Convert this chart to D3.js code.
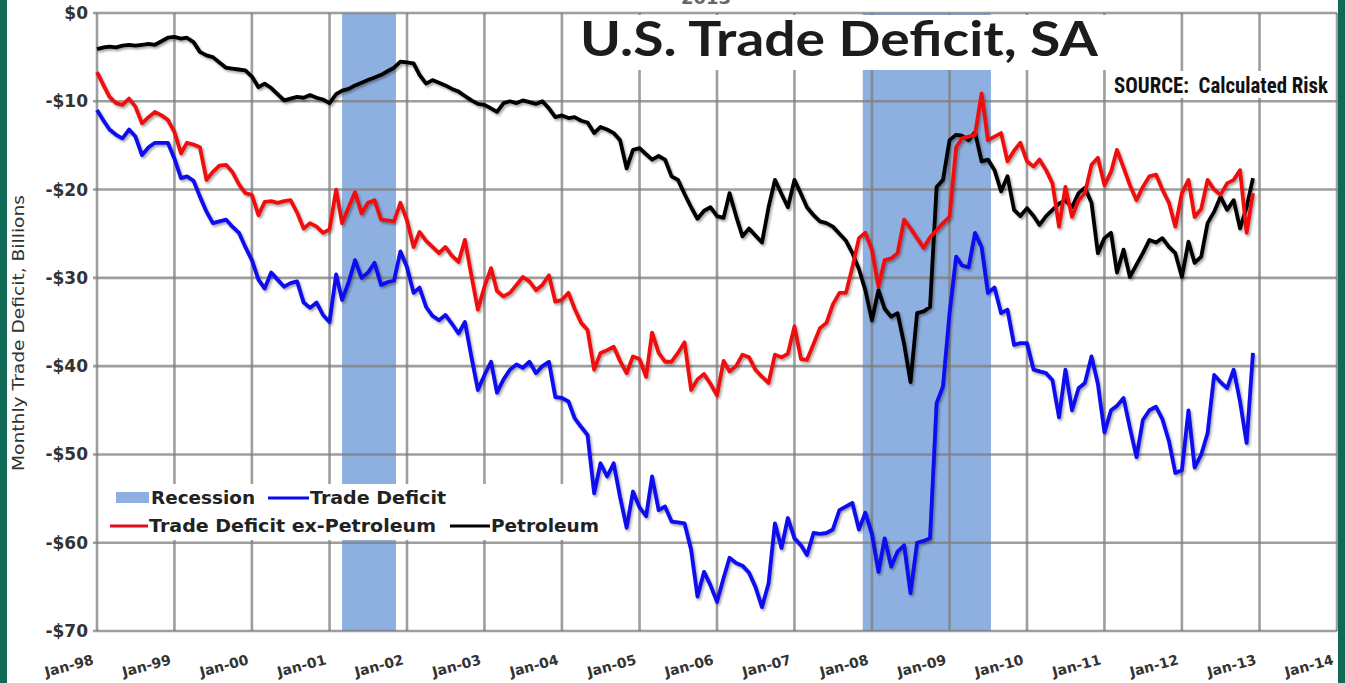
<!DOCTYPE html>
<html>
<head>
<meta charset="utf-8">
<script src="https://cdn.jsdelivr.net/npm/d3@7"></script>
<style>
  body { margin: 0; background: #fff; overflow: hidden; }
  svg { display: block; }
</style>
</head>
<body>
<div id="chart"></div>
<script>
// Monthly values, Jan-98 .. Dec-12, $ billions
var tradeDeficit = [
  -11.0, -12.2, -13.2, -13.8, -14.2, -13.2, -14.0, -16.1, -15.2, -14.7, -14.7, -14.7,
  -16.5, -18.7, -18.5, -19.0, -20.8, -22.5, -23.8, -23.6, -23.4, -24.2, -24.9, -26.5,
  -28.0, -30.2, -31.2, -29.4, -30.2, -31.0, -30.6, -30.4, -32.8, -33.4, -32.8, -34.2,
  -35.0, -29.6, -32.5, -30.5, -28.0, -30.0, -29.4, -28.3, -30.8, -30.5, -30.3, -27.0,
  -28.8, -31.7, -31.1, -33.3, -34.3, -34.8, -34.2, -35.2, -36.3, -35.0, -39.0, -42.7,
  -41.0, -39.5, -43.0, -41.5, -40.4, -39.8, -40.2, -39.5, -40.8, -40.0, -39.5, -43.5,
  -43.6, -44.0, -45.9, -46.9, -47.8, -54.4, -51.0, -52.5, -51.0, -54.8, -58.3, -54.2,
  -56.0, -57.0, -52.5, -56.3, -55.9, -57.6, -57.7, -57.8, -60.8, -66.1, -63.3, -64.8,
  -66.7, -64.0, -61.7, -62.3, -62.6, -63.4, -65.0, -67.3, -64.6, -57.8, -60.6, -57.2,
  -59.5, -60.3, -61.4, -58.9, -59.0, -58.9, -58.5, -56.3, -55.9, -55.5, -58.5, -56.6,
  -59.0, -63.3, -59.5, -62.7, -61.0, -60.3, -65.7, -60.0, -59.8, -59.5, -44.2, -42.3,
  -34.0, -27.6, -28.6, -28.8, -24.9, -26.5, -31.7, -31.1, -34.0, -33.6, -37.6, -37.4,
  -37.4, -40.4, -40.6, -40.8, -41.6, -45.8, -40.4, -45.0, -42.5, -41.9, -38.9, -42.0,
  -47.5, -45.0, -44.5, -43.6, -47.0, -50.3, -46.1, -45.0, -44.6, -46.0, -48.5, -52.1,
  -51.8, -45.0, -51.5, -50.0, -47.6, -41.0, -41.8, -42.5, -40.4, -44.0, -48.7, -38.5
];

var exPetroleum = [
  -6.7, -8.2, -9.5, -10.2, -10.4, -9.7, -10.6, -12.5, -11.8, -11.2, -11.6, -12.1,
  -13.5, -15.9, -14.7, -14.9, -15.2, -18.9, -18.0, -17.3, -17.2, -18.0, -19.4, -20.4,
  -20.6, -22.9, -21.4, -21.3, -21.5, -21.3, -21.2, -22.6, -24.4, -23.8, -24.2, -24.9,
  -24.5, -20.0, -23.8, -22.0, -20.3, -22.7, -21.5, -21.2, -23.4, -23.5, -23.6, -21.5,
  -23.5, -26.5, -24.8, -25.8, -26.5, -27.2, -26.5, -27.5, -28.2, -25.7, -29.8, -33.6,
  -31.0, -28.9, -31.5, -32.1, -31.7, -30.8, -29.9, -30.4, -31.4, -30.8, -29.7, -32.7,
  -32.5, -31.7, -33.5, -35.1, -35.9, -40.4, -38.5, -38.2, -37.8, -39.4, -40.8, -38.9,
  -39.2, -41.2, -36.2, -38.5, -39.5, -39.5, -38.5, -37.3, -42.7, -41.5, -40.9, -42.0,
  -43.3, -39.4, -40.6, -40.0, -38.7, -39.0, -40.4, -41.2, -41.9, -38.7, -39.0, -38.6,
  -35.5, -39.2, -39.3, -37.5, -35.7, -35.1, -33.0, -31.7, -31.7, -28.8, -25.5, -24.9,
  -26.8, -31.0, -28.0, -27.8, -27.2, -23.4, -24.4, -25.5, -26.6, -25.4, -24.6, -23.8,
  -23.1, -15.2, -14.2, -14.0, -13.8, -9.1, -14.4, -14.0, -13.6, -16.8, -15.6, -14.7,
  -16.8, -17.4, -16.6, -17.8, -19.3, -24.2, -19.7, -23.1, -21.2, -20.4, -17.2, -16.4,
  -19.5, -18.0, -15.5, -17.5, -19.5, -21.2, -19.7, -18.5, -18.3, -20.0, -21.5, -24.2,
  -20.4, -18.9, -23.1, -22.2, -18.9, -20.0, -20.6, -19.3, -18.9, -17.8, -24.9, -20.4
];

var petroleum = [
  -4.1, -3.9, -3.8, -3.9, -3.7, -3.6, -3.7, -3.6, -3.5, -3.6, -3.2, -2.8,
  -2.7, -2.9, -2.8, -3.3, -4.4, -4.8, -5.0, -5.6, -6.2, -6.3, -6.4, -6.5,
  -7.2, -8.4, -8.0, -8.5, -9.2, -9.9, -9.7, -9.5, -9.6, -9.3, -9.6, -9.8,
  -10.2, -9.2, -8.8, -8.6, -8.2, -7.9, -7.6, -7.3, -7.0, -6.6, -6.2, -5.5,
  -5.6, -5.7, -7.0, -8.0, -7.6, -7.9, -8.2, -8.6, -8.9, -9.4, -9.9, -10.3,
  -10.4, -10.8, -11.2, -10.2, -10.0, -10.2, -9.9, -10.1, -10.3, -10.0, -10.8, -11.8,
  -11.6, -11.9, -11.8, -12.2, -12.4, -13.6, -12.9, -13.2, -13.6, -14.4, -17.6, -15.5,
  -15.3, -16.0, -16.6, -16.2, -16.6, -18.5, -18.9, -20.5, -22.0, -23.3, -22.4, -22.0,
  -23.0, -23.2, -20.4, -23.0, -25.3, -24.4, -25.2, -26.0, -22.0, -18.9, -20.5, -22.0,
  -18.9, -20.5, -22.0, -22.9, -23.6, -23.8, -24.2, -25.0, -25.8, -27.2, -29.0, -31.4,
  -34.8, -31.4, -33.5, -34.4, -34.0, -37.5, -41.8, -34.0, -33.8, -33.3, -19.7, -18.9,
  -14.4, -13.8, -13.9, -14.4, -13.5, -16.8, -16.6, -17.8, -20.2, -18.5, -22.3, -23.0,
  -22.1, -23.0, -24.0, -23.0, -22.3, -21.6, -21.2, -22.0, -20.4, -19.8, -21.5, -27.2,
  -25.5, -24.9, -29.4, -26.8, -29.9, -28.5, -27.2, -25.7, -26.0, -25.5, -26.5, -27.2,
  -29.9, -25.9, -28.3, -27.6, -23.8, -22.5, -20.8, -22.3, -21.2, -24.4, -22.0, -18.7
];

var recessions = [["2001-03-01", "2001-11-10"], ["2007-11-19", "2009-07-15"]];
var yTicks = [0, -10, -20, -30, -40, -50, -60, -70];
var xDomain = ["1998-01-01", "2014-01-01"];

var width = 1345, height = 683;
var plotLeft = 97, plotRight = 1337, plotTop = 13, plotBottom = 631;
var parse = d3.utcParse("%Y-%m-%d");
var start = parse("1998-01-01");

var svg = d3.select("#chart").append("svg")
    .attr("width", width)
    .attr("height", height);

var defs = svg.append("defs");
defs.append("filter").attr("id", "shadow")
    .attr("x", "-5%").attr("y", "-5%").attr("width", "110%").attr("height", "110%")
  .append("feDropShadow")
    .attr("dx", 1.5).attr("dy", 2).attr("stdDeviation", 1.3)
    .attr("flood-color", "#000").attr("flood-opacity", 0.35);

var x = d3.scaleUtc()
    .domain(xDomain.map(parse))
    .range([plotLeft, plotRight]);

var y = d3.scaleLinear()
    .domain([-70, 0])
    .range([plotBottom, plotTop]);

svg.append("rect").attr("width", width).attr("height", height).attr("fill", "#fff");

// Recession bands
svg.append("g").selectAll("rect")
    .data(recessions)
  .enter().append("rect")
    .attr("x", d => x(parse(d[0])))
    .attr("width", d => x(parse(d[1])) - x(parse(d[0])))
    .attr("y", y(0))
    .attr("height", y(-70) - y(0))
    .attr("fill", "#8eb0e0");

// Grid
var years = d3.utcYear.range(parse(xDomain[0]), d3.utcDay.offset(parse(xDomain[1]), 1));
svg.append("g").selectAll("line")
    .data(years)
  .enter().append("line")
    .attr("x1", d => x(d)).attr("x2", d => x(d))
    .attr("y1", y(0)).attr("y2", y(-70))
    .attr("stroke", "#7d7d7d").attr("stroke-opacity", 0.75).attr("stroke-width", 2.6);

svg.append("g").selectAll("line")
    .data(yTicks)
  .enter().append("line")
    .attr("x1", plotLeft - 4).attr("x2", plotRight)
    .attr("y1", d => y(d)).attr("y2", d => y(d))
    .attr("stroke", "#7d7d7d").attr("stroke-opacity", 0.75).attr("stroke-width", 2.6);

// Title box
svg.append("rect").attr("x", 566).attr("y", 15).attr("width", 548).attr("height", 55).attr("fill", "#fff");
svg.append("text")
    .attr("x", 580).attr("y", 56)
    .attr("textLength", 518).attr("lengthAdjust", "spacingAndGlyphs")
    .style("font-family", "Lato, 'Open Sans', sans-serif")
    .style("font-weight", "bold").style("font-size", "47px")
    .attr("fill", "#1c1c1c")
    .text("U.S. Trade Deficit, SA");

svg.append("text")
    .attr("x", 706).attr("y", 4)
    .attr("text-anchor", "middle")
    .style("font-family", "'DejaVu Sans', sans-serif")
    .style("font-weight", "bold").style("font-size", "18px")
    .attr("fill", "#666")
    .text("2013");

// Source box
svg.append("rect").attr("x", 1110).attr("y", 71).attr("width", 224).attr("height", 27).attr("fill", "#fff");
svg.append("text")
    .attr("x", 1114).attr("y", 93)
    .attr("textLength", 214).attr("lengthAdjust", "spacingAndGlyphs")
    .style("white-space", "pre")
    .style("font-family", "'Liberation Sans Narrow', 'Roboto Condensed', sans-serif")
    .style("font-weight", "bold").style("font-size", "22px")
    .attr("fill", "#111")
    .text("SOURCE:  Calculated Risk");

// Legend box
svg.append("rect").attr("x", 103).attr("y", 484).attr("width", 500).attr("height", 56).attr("fill", "#fff");

function legendText(tx, ty, label, len) {
  return svg.append("text").attr("x", tx).attr("y", ty)
      .attr("textLength", len).attr("lengthAdjust", "spacingAndGlyphs")
      .style("font-family", "'DejaVu Sans', Verdana, sans-serif")
      .style("font-weight", "bold").style("font-size", "17.5px")
      .attr("fill", "#222").text(label);
}
svg.append("rect").attr("x", 116).attr("y", 492).attr("width", 33).attr("height", 11).attr("fill", "#8eb0e0");
legendText(151, 504, "Recession", 104);
svg.append("line").attr("x1", 268).attr("x2", 309).attr("y1", 498).attr("y2", 498)
    .attr("stroke", "#0a0af0").attr("stroke-width", 3);
legendText(310, 504, "Trade Deficit", 136);
svg.append("line").attr("x1", 110).attr("x2", 148).attr("y1", 526).attr("y2", 526)
    .attr("stroke", "#e00d1a").attr("stroke-width", 3);
legendText(149, 532, "Trade Deficit ex-Petroleum", 287);
svg.append("line").attr("x1", 450).attr("x2", 490).attr("y1", 526).attr("y2", 526)
    .attr("stroke", "#000").attr("stroke-width", 3);
legendText(491, 532, "Petroleum", 108);

// Series
var line = d3.line()
    .x((d, i) => x(d3.utcMonth.offset(start, i)))
    .y(d => y(d));

var series = [
  { values: petroleum, color: "#000000" },
  { values: exPetroleum, color: "#f01010" },
  { values: tradeDeficit, color: "#0a0af0" }
];

svg.append("g").attr("filter", "url(#shadow)")
  .selectAll("path")
    .data(series)
  .enter().append("path")
    .attr("d", d => line(d.values))
    .attr("fill", "none")
    .attr("stroke", d => d.color)
    .attr("stroke-width", 3.8)
    .attr("stroke-linejoin", "round");

// Y axis labels
var yAxis = d3.axisLeft(y)
    .tickValues(yTicks)
    .tickSize(0)
    .tickPadding(9)
    .tickFormat(d => d === 0 ? "$0" : "-$" + (-d));

svg.append("g")
    .attr("transform", "translate(" + plotLeft + ",0)")
    .call(yAxis)
    .call(g => g.select(".domain").remove())
    .selectAll("text")
    .style("font-family", "'DejaVu Sans', Verdana, sans-serif")
    .style("font-weight", "bold")
    .style("font-size", "17px")
    .attr("fill", "#333");

// X axis labels
var xAxis = d3.axisBottom(x)
    .tickValues(years)
    .tickSize(0)
    .tickFormat(d3.utcFormat("Jan-%y"));

svg.append("g")
    .attr("transform", "translate(0," + plotBottom + ")")
    .call(xAxis)
    .call(g => g.select(".domain").remove())
    .selectAll("text")
    .attr("text-anchor", "end")
    .attr("dy", null)
    .attr("y", 0)
    .attr("transform", "translate(-3,33) rotate(-15)")
    .style("font-family", "'DejaVu Sans', Verdana, sans-serif")
    .style("font-weight", "bold")
    .style("font-size", "14px")
    .attr("fill", "#333");

// Y axis title
svg.append("text")
    .attr("transform", "translate(24,333) rotate(-90)")
    .attr("text-anchor", "middle")
    .attr("textLength", 276).attr("lengthAdjust", "spacingAndGlyphs")
    .style("font-family", "'DejaVu Sans', Verdana, sans-serif")
    .style("font-size", "15px")
    .attr("fill", "#333")
    .text("Monthly Trade Deficit, Billions");

// Green frame
svg.append("rect").attr("x", 0).attr("y", 0).attr("width", 7).attr("height", height).attr("fill", "#0f6b55");
svg.append("rect").attr("x", 1338).attr("y", 0).attr("width", 7).attr("height", height).attr("fill", "#0f6b55");
</script>
</body>
</html>
